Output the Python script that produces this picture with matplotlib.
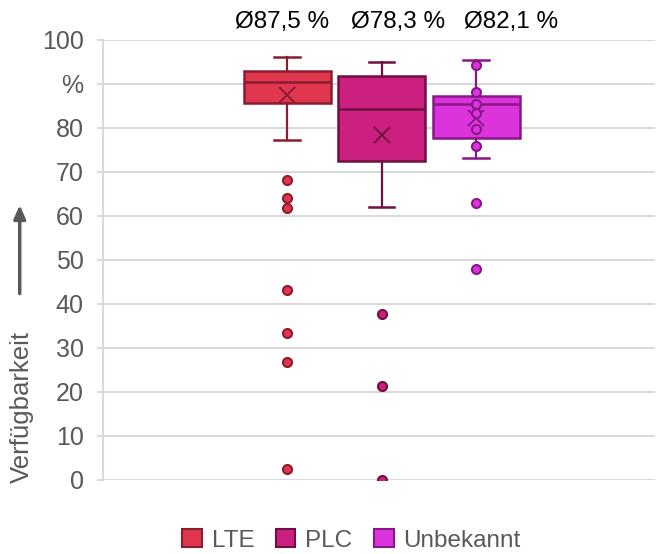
import matplotlib.pyplot as plt
from matplotlib.patches import Patch

plt.rcParams['font.family'] = ['Liberation Sans', 'DejaVu Sans']

# Werte
labels = ["LTE", "PLC", "Unbekannt"]
whislo = [77.3, 62.0, 73.0]
q1 = [85.5, 72.5, 77.7]
med = [90.3, 84.3, 85.3]
q3 = [92.8, 91.8, 87.2]
whishi = [96.0, 95.0, 95.3]
means = [87.5, 78.3, 82.1]
fliers = [
    [68.0, 64.0, 61.8, 43.1, 33.4, 26.7, 2.5],
    [37.6, 21.3, 0.0],
    [62.9, 47.8],
]
inner_unbekannt = [94.3, 88.1, 85.3, 83.4, 79.6, 75.8]
mean_text = ["Ø87,5 %", "Ø78,3 %", "Ø82,1 %"]
yticks = [0, 10, 20, 30, 40, 50, 60, 70, 80, 90, 100]
ytick_labels = ["0", "10", "20", "30", "40", "50", "60", "70", "80", "%", "100"]

fills = ["#E0364E", "#CC2080", "#DD33DD"]
edges = ["#8C1C30", "#6E1040", "#881888"]
grid_c = "#D9D9D9"
txt_c = "#595959"

fig = plt.figure(figsize=(6.57, 5.54), dpi=100)
ax = fig.add_axes([0.157, 0.1336, 0.840, 0.795])

positions = [1, 2, 3]
for i in range(3):
    st = [{
        "whislo": whislo[i], "q1": q1[i], "med": med[i], "q3": q3[i],
        "whishi": whishi[i], "mean": means[i], "fliers": fliers[i],
    }]
    ax.bxp(st, positions=[positions[i]], widths=0.92, capwidths=0.27,
           showmeans=True, patch_artist=True, manage_ticks=False,
           boxprops=dict(facecolor=fills[i], edgecolor=edges[i], linewidth=1.8),
           medianprops=dict(color=edges[i], linewidth=1.8),
           whiskerprops=dict(color=edges[i], linewidth=1.6),
           capprops=dict(color=edges[i], linewidth=1.8),
           meanprops=dict(marker="x", markersize=12, markeredgecolor=edges[i],
                          markeredgewidth=1.4),
           flierprops=dict(marker="o", markersize=6.5, markerfacecolor=fills[i],
                           markeredgecolor=edges[i], markeredgewidth=1.5),
           zorder=3)

ax.plot([3] * len(inner_unbekannt), inner_unbekannt, linestyle="none", marker="o",
        markersize=6.5, markerfacecolor=fills[2], markeredgecolor=edges[2],
        markeredgewidth=1.5, zorder=4)

# Mittelwert-Beschriftungen oben
for xf, t in zip([0.429, 0.606, 0.778], mean_text):
    fig.text(xf, 0.949, t, ha="center", va="baseline", fontsize=17.5, color="black")

ax.set_xlim(-0.947, 4.894)
ax.set_ylim(0, 100)
ax.set_yticks(yticks)
ax.set_yticklabels(ytick_labels)
ax.set_xticks([])
ax.tick_params(axis="y", labelsize=18, labelcolor=txt_c, color=grid_c, length=4,
               width=1.5, pad=10)
ax.grid(axis="y", color=grid_c, linewidth=1.5, zorder=0)
ax.set_axisbelow(True)
for s in ["top", "right", "bottom"]:
    ax.spines[s].set_visible(False)
ax.spines["left"].set_color(grid_c)
ax.spines["left"].set_linewidth(1.5)

fig.text(0.034, 0.265, "Verfügbarkeit", rotation=90, ha="center", va="center",
         fontsize=18.5, color=txt_c)
fig.add_artist(plt.Annotation("", xy=(0.030, 0.635), xytext=(0.030, 0.465),
                              xycoords="figure fraction", textcoords="figure fraction",
                              arrowprops=dict(arrowstyle="-|>,head_length=0.8,head_width=0.35",
                                              color=txt_c, lw=2.5)))

handles = [Patch(facecolor=fills[i], edgecolor=edges[i], linewidth=1.5, label=labels[i])
           for i in range(3)]
fig.legend(handles=handles, loc="center", bbox_to_anchor=(0.535, 0.025), ncol=3,
           frameon=False, fontsize=17.5, handlelength=0.8, handleheight=0.8,
           handletextpad=0.4, columnspacing=0.9, labelcolor=txt_c)

fig.savefig("out.png", dpi=100)
